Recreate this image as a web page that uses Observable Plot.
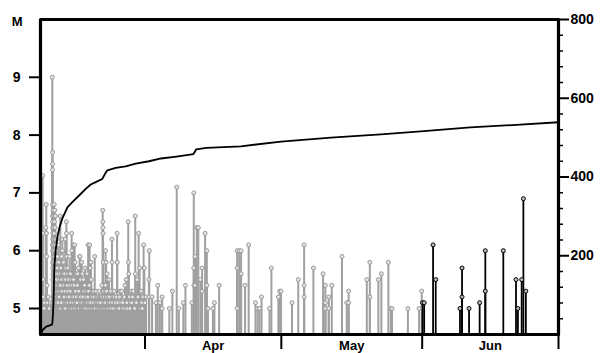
<!DOCTYPE html>
<html><head><meta charset="utf-8">
<script src="https://cdn.jsdelivr.net/npm/d3@7"></script>
<script src="https://cdn.jsdelivr.net/npm/@observablehq/plot@0.6"></script>
<style>body{margin:0;background:#fff;} #chart svg{display:block}</style>
</head><body><div id="chart"></div>
<script>
// Earthquakes: ["MM-DD HH", magnitude]  (2011)
const quakes = [
["03-09 11",7.3],["03-09 12",6.3],["03-09 13",5.5],["03-09 14",5.2],["03-09 18",5.0],["03-09 21",5.1],
["03-10 3",6.4],["03-10 6",6.8],["03-10 7",6.3],["03-10 8",5.9],["03-10 10",5.4],["03-10 13",5.1],["03-10 17",5.2],["03-10 22",5.0],
["03-11 5",5.1],["03-11 14",9.0],["03-11 15",7.7],["03-11 15",7.5],["03-11 15",7.4],["03-11 15",6.8],["03-11 15",6.6],["03-11 15",6.1],["03-11 16",6.5],["03-11 16",6.4],["03-11 16",6.2],["03-11 16",6.0],["03-11 16",5.8],["03-11 16",5.1],["03-11 17",6.3],["03-11 17",6.1],["03-11 17",5.7],["03-11 17",5.5],["03-11 17",5.0],["03-11 18",5.9],["03-11 18",5.6],["03-11 18",5.3],["03-11 18",5.0],["03-11 19",6.7],["03-11 19",6.0],["03-11 19",5.4],["03-11 19",5.2],["03-11 20",6.4],["03-11 20",5.8],["03-11 20",5.2],["03-11 20",5.0],["03-11 21",6.2],["03-11 21",5.5],["03-11 21",5.0],["03-11 22",6.6],["03-11 22",5.9],["03-11 22",5.3],["03-11 22",5.0],["03-11 23",6.1],["03-11 23",5.6],["03-11 23",5.1],["03-11 23",5.3],
["03-12 0",6.8],["03-12 0",6.3],["03-12 0",5.0],["03-12 1",6.5],["03-12 1",5.7],["03-12 1",5.2],["03-12 2",6.0],["03-12 2",5.4],["03-12 3",6.7],["03-12 3",5.8],["03-12 3",5.1],["03-12 4",6.4],["03-12 4",5.5],["03-12 4",5.0],["03-12 5",6.2],["03-12 5",5.2],["03-12 6",6.6],["03-12 6",5.9],["03-12 6",5.2],["03-12 7",5.6],["03-12 7",5.0],["03-12 8",6.1],["03-12 8",5.3],["03-12 9",5.8],["03-12 9",5.3],["03-12 10",6.0],["03-12 10",5.1],["03-12 11",5.5],["03-12 11",5.0],["03-12 12",5.7],["03-12 12",5.1],["03-12 13",5.2],["03-12 13",5.5],["03-12 14",6.2],["03-12 15",5.4],["03-12 15",5.2],["03-12 16",5.0],["03-12 16",5.7],["03-12 17",5.9],["03-12 18",5.3],["03-12 18",5.0],["03-12 19",5.6],["03-12 19",5.1],["03-12 20",5.1],["03-12 21",5.3],["03-12 21",5.0],["03-12 22",6.1],["03-12 22",5.2],["03-12 23",5.4],
["03-13 0",5.8],["03-13 1",5.0],["03-13 2",5.2],["03-13 3",5.4],["03-13 4",5.5],["03-13 5",5.3],["03-13 6",5.0],["03-13 7",5.6],["03-13 8",6.6],["03-13 9",5.4],["03-13 10",5.0],["03-13 11",5.7],["03-13 12",5.3],["03-13 13",5.1],["03-13 14",5.5],["03-13 15",5.9],["03-13 16",5.5],["03-13 17",5.3],["03-13 18",5.6],["03-13 19",6.2],["03-13 20",6.0],["03-13 21",5.6],["03-13 22",5.0],["03-13 23",5.2],
["03-14 0",5.6],["03-14 1",5.8],["03-14 2",5.0],["03-14 3",5.4],["03-14 4",5.2],["03-14 5",5.0],["03-14 6",5.5],["03-14 7",5.6],["03-14 8",5.1],["03-14 9",5.3],["03-14 10",6.2],["03-14 11",5.0],["03-14 12",5.5],["03-14 13",5.7],["03-14 14",5.1],["03-14 15",5.4],["03-14 16",6.5],["03-14 17",6.3],["03-14 18",5.9],["03-14 19",5.1],["03-14 20",5.4],["03-14 21",5.6],["03-14 22",5.2],["03-14 23",5.3],
["03-15 0",5.7],["03-15 1",5.1],["03-15 2",5.0],["03-15 3",5.5],["03-15 4",5.5],["03-15 5",5.0],["03-15 7",5.2],["03-15 8",5.6],["03-15 9",5.9],["03-15 10",5.0],["03-15 11",5.4],["03-15 12",5.3],["03-15 13",5.1],["03-15 14",5.6],["03-15 16",5.0],["03-15 17",5.1],["03-15 18",5.5],["03-15 20",6.3],["03-15 21",6.0],["03-15 22",5.0],["03-15 23",5.4],
["03-16 0",5.0],["03-16 1",5.2],["03-16 3",5.5],["03-16 4",6.1],["03-16 5",5.1],["03-16 6",5.5],["03-16 8",5.2],["03-16 9",5.0],["03-16 10",5.4],["03-16 11",5.0],["03-16 12",6.1],["03-16 14",5.8],["03-16 15",5.1],["03-16 17",5.3],["03-16 19",5.0],["03-16 20",5.6],["03-16 21",5.2],["03-16 23",5.1],
["03-17 0",5.1],["03-17 2",5.4],["03-17 4",5.6],["03-17 5",5.0],["03-17 7",5.0],["03-17 8",5.7],["03-17 10",5.3],["03-17 11",5.2],["03-17 13",5.0],["03-17 14",5.9],["03-17 16",5.9],["03-17 18",5.2],["03-17 19",5.5],["03-17 21",5.1],["03-17 23",5.0],
["03-18 1",5.8],["03-18 3",5.0],["03-18 4",5.6],["03-18 6",5.1],["03-18 7",5.2],["03-18 9",5.0],["03-18 10",5.5],["03-18 12",5.3],["03-18 13",5.0],["03-18 15",5.1],["03-18 16",5.4],["03-18 18",5.0],["03-18 19",5.7],["03-18 21",5.1],["03-18 22",5.3],
["03-19 0",5.2],["03-19 2",5.1],["03-19 4",5.0],["03-19 5",5.6],["03-19 7",5.1],["03-19 8",5.3],["03-19 10",5.2],["03-19 11",6.1],["03-19 13",5.3],["03-19 14",5.0],["03-19 16",5.1],["03-19 17",5.4],["03-19 19",6.1],["03-19 21",5.0],["03-19 22",5.7],
["03-20 0",5.1],["03-20 2",5.8],["03-20 4",5.5],["03-20 6",5.0],["03-20 8",5.2],["03-20 10",5.3],["03-20 12",5.0],["03-20 14",5.1],["03-20 16",5.3],["03-20 18",5.2],["03-20 20",5.0],["03-20 22",5.9],
["03-21 0",5.0],["03-21 3",5.1],["03-21 5",5.3],["03-21 8",5.2],["03-21 10",5.1],["03-21 12",5.0],["03-21 14",5.2],["03-21 17",5.1],["03-21 19",5.0],["03-21 21",5.3],["03-21 23",5.2],
["03-22 0",5.0],["03-22 2",5.2],["03-22 4",5.1],["03-22 7",5.0],["03-22 9",5.2],["03-22 12",5.4],["03-22 14",5.0],["03-22 16",6.7],["03-22 16",5.2],["03-22 17",6.5],["03-22 17",6.4],["03-22 18",6.3],["03-22 19",5.8],["03-22 20",5.0],["03-22 21",5.3],["03-22 23",5.1],
["03-23 1",5.2],["03-23 3",5.0],["03-23 7",6.0],["03-23 7",5.4],["03-23 7",5.1],["03-23 8",5.3],["03-23 9",5.0],["03-23 10",5.8],["03-23 11",5.2],["03-23 13",5.3],["03-23 15",5.6],["03-23 16",5.0],["03-23 18",5.5],["03-23 19",5.2],["03-23 21",5.1],["03-23 23",5.0],
["03-24 0",5.1],["03-24 2",5.5],["03-24 4",5.2],["03-24 6",5.0],["03-24 8",5.1],["03-24 11",5.3],["03-24 14",5.0],["03-24 17",6.2],["03-24 18",5.8],["03-24 20",5.1],["03-24 22",5.2],
["03-25 1",5.0],["03-25 4",5.3],["03-25 6",5.2],["03-25 9",5.1],["03-25 11",5.1],["03-25 14",5.0],["03-25 17",5.2],["03-25 20",6.3],["03-25 21",5.8],["03-25 23",5.0],
["03-26 0",5.1],["03-26 3",5.0],["03-26 6",5.0],["03-26 9",5.2],["03-26 12",5.3],["03-26 16",5.1],["03-26 20",5.3],["03-26 23",5.0],
["03-27 2",5.1],["03-27 6",5.0],["03-27 10",5.2],["03-27 14",5.4],["03-27 17",5.0],["03-27 20",5.5],["03-27 23",5.1],
["03-28 2",5.0],["03-28 7",6.5],["03-28 8",5.8],["03-28 10",5.6],["03-28 13",5.2],["03-28 16",5.0],["03-28 18",5.1],["03-28 22",5.3],
["03-29 1",5.1],["03-29 5",5.2],["03-29 9",5.3],["03-29 14",5.0],["03-29 17",5.0],["03-29 20",6.6],["03-29 21",5.6],
["03-30 2",5.1],["03-30 6",5.5],["03-30 10",5.2],["03-30 14",6.3],["03-30 17",5.0],["03-30 19",5.7],["03-30 22",5.0],
["03-31 0",5.0],["03-31 3",5.3],["03-31 6",5.1],["03-31 9",5.0],["03-31 12",5.2],["03-31 16",6.1],["03-31 20",5.7],["03-31 23",5.1],
["04-01 5",5.2],["04-01 20",5.5],["04-01 21",5.2],["04-01 22",6.0],
["04-02 13",5.2],["04-03 9",5.1],["04-03 19",5.4],["04-04 6",5.1],["04-04 18",5.2],["04-04 18",5.0],
["04-06 8",5.0],["04-07 0",5.3],["04-07 23",7.1],["04-08 10",5.0],["04-09 10",5.1],["04-09 21",5.4],
["04-11 7",5.1],["04-11 17",7.0],["04-11 17",5.7],["04-11 18",5.4],["04-11 23",5.4],["04-12 0",5.9],
["04-12 9",6.4],["04-12 17",6.4],["04-13 4",5.5],["04-13 13",5.7],["04-13 13",5.3],
["04-14 5",6.3],["04-14 14",6.0],["04-14 14",5.4],["04-14 20",5.0],["04-15 22",5.0],["04-16 6",5.1],["04-17 7",5.4],
["04-21 6",6.0],["04-21 6",5.7],["04-21 6",5.0],["04-21 17",6.0],["04-22 3",6.0],["04-22 3",5.6],["04-23 0",5.4],["04-23 19",6.1],
["04-25 7",5.1],["04-25 18",5.0],["04-26 4",5.0],["04-26 15",5.2],["04-28 9",5.0],["04-28 19",5.7],
["04-30 8",5.2],["04-30 15",5.3],["04-30 22",5.3],
["05-03 8",5.1],["05-04 17",5.5],["05-06 0",6.1],["05-06 0",5.4],["05-06 0",5.2],["05-08 1",5.7],
["05-10 4",5.6],["05-10 16",5.4],["05-10 16",5.1],["05-10 16",5.0],["05-11 10",5.2],["05-11 10",5.0],["05-12 2",5.4],
["05-14 8",5.9],["05-15 9",5.1],["05-15 19",5.3],["05-15 19",5.1],["05-19 19",5.5],["05-20 11",5.8],["05-20 11",5.2],
["05-22 8",5.5],["05-23 0",5.6],["05-24 13",5.8],["05-25 2",5.0],["05-25 8",5.0],["05-28 20",5.0],["05-31 7",5.0],["05-31 21",5.3],
["06-01 1",5.1],["06-01 10",5.1],["06-03 9",6.1],["06-03 23",5.5],["06-09 7",5.0],["06-09 18",5.7],["06-09 18",5.2],
["06-11 7",5.0],["06-13 15",5.1],["06-14 21",6.0],["06-14 21",5.3],["06-18 20",6.0],["06-21 15",5.5],["06-22 1",5.0],
["06-22 21",5.5],["06-23 6",6.9],["06-23 19",5.3]
];
// cumulative number of events (right axis)
const cumTimes = ["03-09 0","03-09 12","03-10 6","03-11 12","03-11 15","03-11 18","03-11 22","03-12 1","03-12 8","03-12 17","03-13 5","03-13 19","03-14 22","03-16 0","03-17 12","03-18 23","03-20 1","03-21 12","03-22 14","03-23 5","03-23 17","03-25 13","03-27 18","03-29 23","04-01 21","04-04 12","04-07 22","04-11 16","04-12 6","04-14 12","04-22 2","04-30 22","05-11 22","05-22 22","05-31 16","06-11 14","06-22 14","07-01 0"];
const cumCounts = [0,12,20,25,30,53,103,171,213,247,273,294,323,336,353,370,381,389,395,408,417,423,427,434,440,447,452,458,470,474,478,490,500,508,516,526,533,539];
const magTicks = [5,6,7,8,9];
const countTicks = [200,400,600,800];
const countMinorTicks = [40,80,120,160,240,280,320,360,440,480,520,560,640,680,720,760];
const monthStarts = ["04-01 0","05-01 0","06-01 0","07-01 0"];
const monthLabels = ["Apr","May","Jun"];
const monthLabelAt = ["04-16 0","05-16 12","06-16 0"];

const t = s => { const [md,h] = s.split(" "); const [m,d] = md.split("-"); return new Date(Date.UTC(2011, +m-1, +d, +h, 30)); };
const t0 = s => { const [md,h] = s.split(" "); const [m,d] = md.split("-"); return new Date(Date.UTC(2011, +m-1, +d, +h)); };
const M0 = 4.55, M1 = 10;
const toM = c => M0 + c*(M1-M0)/800;
const june = t0("06-01 0");
const data = quakes.map(([s,m]) => ({date: t(s), mag: m}));
const gray = data.filter(d => d.date < june), black = data.filter(d => d.date >= june);
const cum = cumTimes.map((s,i) => ({date: t0(s), count: cumCounts[i]}));
const labelDates = monthLabelAt.map(t0);

const chart = Plot.plot({
  width: 612, height: 353,
  marginLeft: 40, marginRight: 54, marginTop: 19, marginBottom: 19,
  x: {type: "utc", domain: [t0("03-09 0"), t0("07-01 0")], label: null},
  y: {domain: [M0, M1], label: null},
  style: {fontFamily: "'Liberation Sans', Arial, sans-serif", background: "#fff", color: "#000"},
  marks: [
    Plot.ruleX(gray, {x: "date", y1: M0, y2: "mag", stroke: "#a0a0a0", strokeWidth: 2}),
    Plot.ruleX(black, {x: "date", y1: M0, y2: "mag", stroke: "#000", strokeWidth: 1.8}),
    Plot.dot(gray, {x: "date", y: "mag", r: 2, stroke: "#999", fill: "#e4e4e4", strokeWidth: 1}),
    Plot.dot(black, {x: "date", y: "mag", r: 2, stroke: "#000", fill: "#bbb", strokeWidth: 1}),
    Plot.line(cum, {x: "date", y: d => toM(d.count), stroke: "#000", strokeWidth: 1.8}),
    Plot.axisY(magTicks, {anchor: "left", tickSize: 11, tickPadding: 9, strokeWidth: 2, fontSize: 14, fontWeight: "bold", tickFormat: d => String(d)}),
    Plot.axisY([M1], {anchor: "left", tickSize: 0, tickPadding: 18, tickFormat: () => "M", fontSize: 13, fontWeight: "bold", dy: 2}),
    Plot.axisY(countTicks.map(toM), {anchor: "right", tickSize: 10, tickPadding: 2, strokeWidth: 2, fontSize: 14, fontWeight: "bold",
      tickFormat: v => String(Math.round((v - M0)*800/(M1 - M0)))}),
    Plot.axisY(countMinorTicks.map(toM), {anchor: "right", tickSize: 4, strokeWidth: 1.5, tickFormat: () => ""}),
    Plot.axisX(monthStarts.map(t0), {anchor: "bottom", tickSize: 15, strokeWidth: 2, tickFormat: () => ""}),
    Plot.axisX(labelDates, {anchor: "bottom", tickSize: 0, tickPadding: 6, fontSize: 13, fontWeight: "bold",
      tickFormat: d => monthLabels[labelDates.findIndex(e => +e === +d)]}),
    Plot.frame({stroke: "#000", strokeWidth: 3.2, strokeLinejoin: "round"})
  ]
});
document.getElementById("chart").append(chart);
</script>
</body></html>
